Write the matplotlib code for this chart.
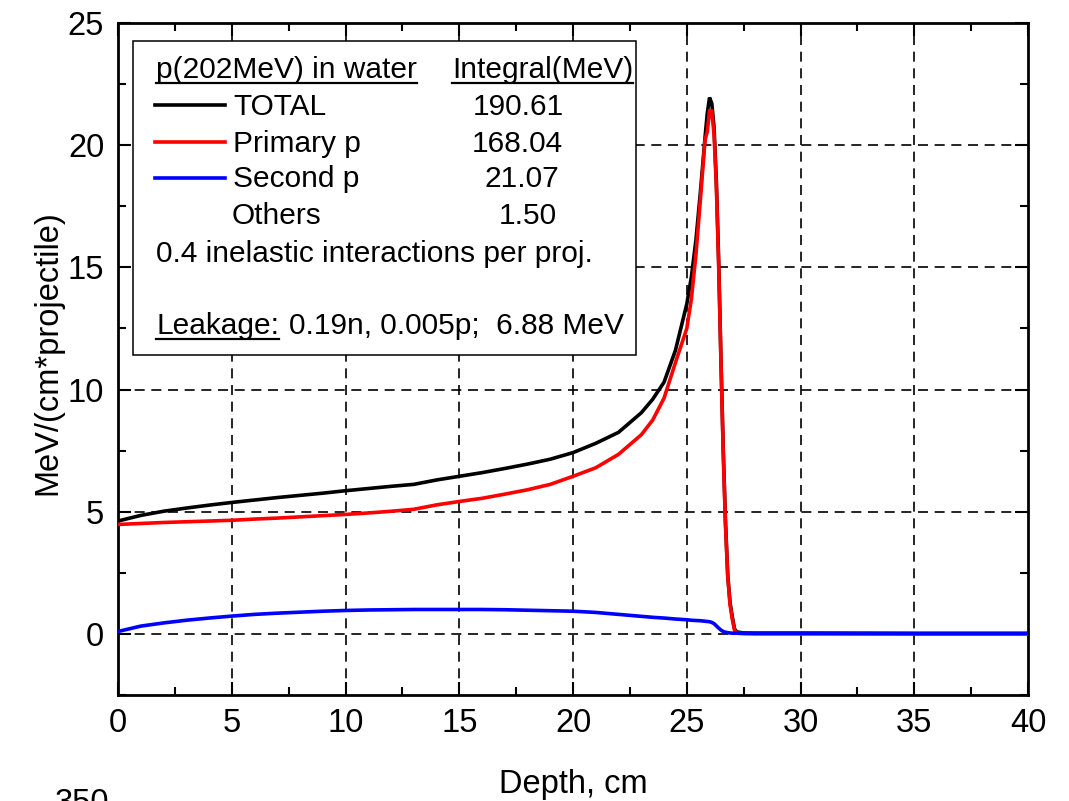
import matplotlib
matplotlib.use("Agg")
import matplotlib.pyplot as plt
from matplotlib.lines import Line2D
from matplotlib.patches import Rectangle
from matplotlib.ticker import MultipleLocator

plt.rcParams["font.family"] = ["Liberation Sans", "DejaVu Sans"]

# Depth-dose profile of a 202 MeV proton beam in water
depth = [0, 1, 2, 3, 4, 5, 6, 7, 8, 9, 10, 11, 12, 13, 14, 15, 16, 17, 18, 19,
         20, 21, 22, 23, 23.5, 24, 24.5, 25, 25.2, 25.4, 25.6, 25.8, 25.9, 26.0,
         26.1, 26.2, 26.3, 26.4, 26.5, 26.6, 26.7, 26.8, 26.9, 27.0, 27.1, 27.2,
         27.5, 28, 30, 35, 40]
total = [4.62, 4.85, 5.02, 5.15, 5.27, 5.38, 5.48, 5.58, 5.67, 5.76, 5.86, 5.95,
         6.04, 6.12, 6.30, 6.45, 6.60, 6.77, 6.95, 7.15, 7.42, 7.80, 8.25, 9.05,
         9.60, 10.30, 11.60, 13.50, 14.60, 16.10, 18.10, 20.30, 21.30, 21.95,
         21.70, 20.70, 18.50, 15.30, 11.30, 7.60, 4.60, 2.40, 1.30, 0.70, 0.20,
         0.08, 0.04, 0.03, 0.03, 0.02, 0.02]
primary = [4.48, 4.52, 4.56, 4.59, 4.62, 4.65, 4.70, 4.74, 4.79, 4.84, 4.89, 4.95,
           5.02, 5.10, 5.28, 5.42, 5.55, 5.72, 5.90, 6.12, 6.45, 6.80, 7.35, 8.15,
           8.75, 9.65, 11.10, 12.50, 13.70, 15.50, 17.80, 20.20, 20.55, 21.40,
           21.40, 20.40, 18.30, 15.10, 11.20, 7.46, 4.46, 2.35, 1.20, 0.60, 0.15,
           0.03, 0.01, 0.0, 0.0, 0.0, 0.0]
second = [0.10, 0.32, 0.45, 0.56, 0.65, 0.73, 0.80, 0.85, 0.89, 0.93, 0.96, 0.98,
          0.99, 1.00, 1.00, 1.00, 1.00, 0.99, 0.97, 0.95, 0.93, 0.88, 0.80, 0.72,
          0.68, 0.65, 0.61, 0.58, 0.56, 0.55, 0.54, 0.52, 0.51, 0.50, 0.47, 0.42,
          0.33, 0.24, 0.16, 0.10, 0.07, 0.05, 0.04, 0.03, 0.03, 0.03, 0.03, 0.03,
          0.03, 0.02, 0.02]

legend_names = ["TOTAL", "Primary p", "Second p", "Others"]
legend_integrals = ["190.61", "168.04", "21.07", "1.50"]
series_colors = ["black", "red", "blue"]

fig = plt.figure(figsize=(10.69, 8.01), dpi=100)
ax = fig.add_axes([0.1104, 0.1323, 0.8513, 0.8390])

for vals, col in zip([total, primary, second], series_colors):
    ax.plot(depth, vals, color=col, lw=2.6, solid_joinstyle="miter", zorder=3)

ax.set_xlim(0, 40)
ax.set_ylim(-2.5, 25)
ax.xaxis.set_major_locator(MultipleLocator(5))
ax.xaxis.set_minor_locator(MultipleLocator(2.5))
ax.yaxis.set_major_locator(MultipleLocator(5))
ax.yaxis.set_minor_locator(MultipleLocator(2.5))
ax.tick_params(which="both", direction="in", top=True, right=True, width=1.5,
               labelsize=23.5)
ax.tick_params(which="major", length=9.5)
ax.tick_params(which="minor", length=5.5)
ax.tick_params(axis="x", which="major", pad=9)
ax.tick_params(axis="y", which="major", pad=10)
for sp in ax.spines.values():
    sp.set_linewidth(2.0)

# dashed grid at the major ticks inside the frame
for gx in range(5, 40, 5):
    ax.axvline(gx, color="black", lw=1.2, dashes=(6, 4), zorder=1)
for gy in range(0, 25, 5):
    ax.axhline(gy, color="black", lw=1.2, dashes=(6, 4), zorder=1)

ax.set_xlabel("Depth, cm", fontsize=23.5)
ax.set_ylabel("MeV/(cm*projectile)", fontsize=23.5)
ax.xaxis.set_label_coords(0.5, -0.110)
ax.yaxis.set_label_coords(-0.060, 0.509)

# legend panel
box = Rectangle((0.0165, 0.506), 0.5525, 0.467, transform=ax.transAxes,
                facecolor="white", edgecolor="black", lw=1.1, zorder=5)
ax.add_patch(box)

fs = 21.5
tkw = dict(transform=ax.transAxes, fontsize=fs, va="baseline", ha="left", zorder=6)
t_title = ax.text(0.0418, 0.918, "p(202MeV) in water", **tkw)
t_integ = ax.text(0.367, 0.918, "Integral(MeV)", **tkw)

name_y = [0.863, 0.808, 0.756, 0.701]
name_x = [0.1264, 0.1264, 0.1264, 0.1253]
num_x = [0.390, 0.389, 0.403, 0.418]
line_y = [0.878, 0.823, 0.769]
for i, (nm, val) in enumerate(zip(legend_names, legend_integrals)):
    ax.text(name_x[i], name_y[i], nm, **tkw)
    ax.text(num_x[i], name_y[i], val, **tkw)
    if i < len(series_colors):
        ax.add_line(Line2D([0.0407, 0.1176], [line_y[i], line_y[i]],
                           transform=ax.transAxes, color=series_colors[i],
                           lw=2.6, zorder=6))

ax.text(0.0418, 0.644, "0.4 inelastic interactions per proj.", **tkw)
t_leak = ax.text(0.0418, 0.537, "Leakage:", **tkw)

fig.text(0.0767, -0.0137, "350", fontsize=23.5, ha="center", va="baseline")

fig.canvas.draw()
renderer = fig.canvas.get_renderer()
W, H = fig.bbox.width, fig.bbox.height


def underline(txt, base_y_axes, drop_px=5):
    ext = txt.get_window_extent(renderer)
    _, yb = ax.transAxes.transform((0, base_y_axes))
    yl = (yb - drop_px) / H
    fig.add_artist(Line2D([ext.x0 / W, ext.x1 / W], [yl, yl],
                          transform=fig.transFigure, color="black", lw=1.6,
                          zorder=7))
    return ext


underline(t_title, 0.918)
underline(t_integ, 0.918)
ext = underline(t_leak, 0.537)
x_after = ax.transAxes.inverted().transform((ext.x1 + 10, 0))[0]
ax.text(x_after, 0.537, "0.19n, 0.005p;  6.88 MeV", **tkw)

fig.savefig("out.png", dpi=100)
